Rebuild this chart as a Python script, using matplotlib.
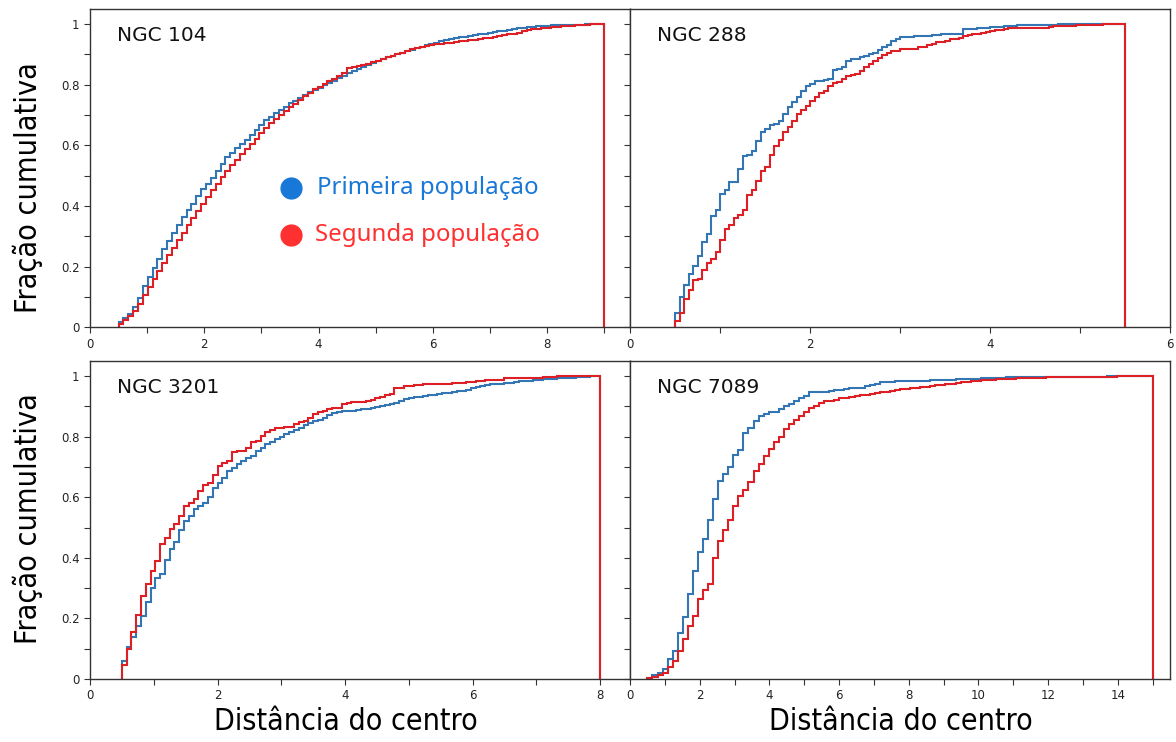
import numpy as np
import matplotlib
matplotlib.use("Agg")
import matplotlib.pyplot as plt
from matplotlib import font_manager
from matplotlib.ticker import MultipleLocator, FixedLocator, FixedFormatter

# aglomerados e limites das distancias (100 bins entre r_min e r_max)
clusters = ["NGC 104", "NGC 288", "NGC 3201", "NGC 7089"]
r_min = [0.5, 0.5, 0.5, 0.5]
r_max = [9.0, 5.5, 8.0, 15.0]
x_lim = [9.45, 6.0, 8.47, 15.5]
x_major = [2, 2, 2, 2]

# fracao cumulativa por bin - primeira populacao (1G) e segunda (2G)
ngc104_1g = [
    0.017, 0.030, 0.045, 0.065, 0.095, 0.135, 0.165, 0.195, 0.225, 0.258,
    0.285, 0.312, 0.338, 0.362, 0.385, 0.408, 0.432, 0.455, 0.472, 0.492,
    0.515, 0.538, 0.560, 0.576, 0.590, 0.603, 0.618, 0.634, 0.650, 0.667,
    0.684, 0.695, 0.706, 0.717, 0.728, 0.739, 0.748, 0.757, 0.766, 0.775,
    0.782, 0.790, 0.798, 0.806, 0.814, 0.822, 0.830, 0.838, 0.845, 0.852,
    0.859, 0.866, 0.873, 0.879, 0.885, 0.891, 0.896, 0.901, 0.906, 0.911,
    0.916, 0.921, 0.926, 0.930, 0.934, 0.939, 0.943, 0.947, 0.950, 0.954,
    0.957, 0.959, 0.962, 0.964, 0.966, 0.968, 0.970, 0.973, 0.976, 0.979,
    0.982, 0.984, 0.986, 0.988, 0.990, 0.991, 0.993, 0.994, 0.995, 0.996,
    0.996, 0.997, 0.997, 0.998, 0.998, 0.998, 0.999, 0.999, 0.999, 1.000,
]
ngc104_2g = [
    0.010, 0.022, 0.036, 0.052, 0.075, 0.105, 0.132, 0.160, 0.185, 0.212,
    0.238, 0.262, 0.288, 0.312, 0.336, 0.360, 0.384, 0.408, 0.430, 0.452,
    0.474, 0.494, 0.514, 0.534, 0.552, 0.570, 0.588, 0.605, 0.622, 0.640,
    0.657, 0.674, 0.688, 0.700, 0.712, 0.725, 0.738, 0.750, 0.762, 0.774,
    0.786, 0.794, 0.802, 0.812, 0.820, 0.830, 0.838, 0.855, 0.858, 0.862,
    0.866, 0.870, 0.875, 0.880, 0.886, 0.891, 0.896, 0.901, 0.906, 0.912,
    0.917, 0.922, 0.926, 0.929, 0.931, 0.933, 0.935, 0.937, 0.939, 0.941,
    0.943, 0.945, 0.947, 0.949, 0.951, 0.953, 0.955, 0.957, 0.960, 0.963,
    0.966, 0.969, 0.972, 0.976, 0.980, 0.983, 0.985, 0.987, 0.988, 0.990,
    0.992, 0.993, 0.994, 0.995, 0.996, 0.997, 0.998, 0.999, 0.999, 1.000,
]
ngc288_1g = [
    0.047, 0.100, 0.140, 0.177, 0.202, 0.235, 0.282, 0.309, 0.368, 0.387,
    0.440, 0.453, 0.478, 0.478, 0.522, 0.564, 0.569, 0.582, 0.615, 0.643,
    0.655, 0.668, 0.672, 0.682, 0.702, 0.726, 0.743, 0.759, 0.781, 0.796,
    0.801, 0.812, 0.814, 0.816, 0.818, 0.848, 0.853, 0.859, 0.878, 0.884,
    0.886, 0.892, 0.896, 0.900, 0.904, 0.915, 0.925, 0.932, 0.945, 0.952,
    0.956, 0.958, 0.958, 0.960, 0.960, 0.962, 0.962, 0.963, 0.965, 0.967,
    0.967, 0.967, 0.968, 0.968, 0.983, 0.983, 0.985, 0.986, 0.986, 0.988,
    0.990, 0.990, 0.992, 0.993, 0.993, 0.993, 0.998, 0.998, 0.998, 0.998,
    0.998, 0.998, 0.998, 0.998, 0.998, 1.000, 1.000, 1.000, 1.000, 1.000,
    1.000, 1.000, 1.000, 1.000, 1.000, 1.000, 1.000, 1.000, 1.000, 1.000,
]
ngc288_2g = [
    0.020, 0.047, 0.094, 0.121, 0.155, 0.160, 0.190, 0.213, 0.224, 0.249,
    0.287, 0.323, 0.337, 0.361, 0.370, 0.387, 0.436, 0.453, 0.481, 0.514,
    0.530, 0.569, 0.597, 0.619, 0.644, 0.660, 0.680, 0.702, 0.718, 0.731,
    0.746, 0.759, 0.774, 0.781, 0.796, 0.805, 0.810, 0.820, 0.828, 0.832,
    0.837, 0.845, 0.860, 0.867, 0.880, 0.888, 0.898, 0.905, 0.910, 0.912,
    0.918, 0.918, 0.918, 0.918, 0.926, 0.926, 0.930, 0.935, 0.940, 0.940,
    0.945, 0.950, 0.950, 0.955, 0.960, 0.963, 0.967, 0.967, 0.970, 0.973,
    0.976, 0.980, 0.982, 0.985, 0.987, 0.987, 0.987, 0.987, 0.987, 0.987,
    0.987, 0.987, 0.987, 0.990, 0.993, 0.995, 0.995, 0.995, 0.995, 0.997,
    0.997, 0.997, 0.998, 0.998, 0.998, 0.999, 1.000, 1.000, 1.000, 1.000,
]
ngc3201_1g = [
    0.058, 0.106, 0.139, 0.176, 0.207, 0.255, 0.301, 0.332, 0.345, 0.392,
    0.428, 0.452, 0.492, 0.522, 0.538, 0.560, 0.571, 0.582, 0.602, 0.632,
    0.646, 0.665, 0.687, 0.698, 0.709, 0.720, 0.728, 0.736, 0.753, 0.764,
    0.775, 0.783, 0.792, 0.800, 0.808, 0.816, 0.822, 0.830, 0.838, 0.845,
    0.852, 0.855, 0.863, 0.871, 0.877, 0.880, 0.883, 0.884, 0.886, 0.888,
    0.890, 0.892, 0.894, 0.898, 0.902, 0.905, 0.908, 0.912, 0.918, 0.925,
    0.928, 0.930, 0.932, 0.934, 0.936, 0.938, 0.941, 0.943, 0.945, 0.947,
    0.950, 0.952, 0.955, 0.959, 0.963, 0.968, 0.970, 0.972, 0.974, 0.975,
    0.976, 0.978, 0.980, 0.982, 0.984, 0.985, 0.987, 0.988, 0.989, 0.990,
    0.991, 0.992, 0.993, 0.994, 0.995, 0.996, 0.997, 0.998, 0.999, 1.000,
]
ngc3201_2g = [
    0.047, 0.099, 0.154, 0.211, 0.274, 0.312, 0.356, 0.389, 0.444, 0.466,
    0.494, 0.513, 0.538, 0.571, 0.582, 0.593, 0.621, 0.639, 0.648, 0.673,
    0.703, 0.712, 0.720, 0.748, 0.753, 0.753, 0.764, 0.783, 0.786, 0.803,
    0.816, 0.822, 0.828, 0.830, 0.833, 0.833, 0.841, 0.849, 0.852, 0.863,
    0.874, 0.880, 0.885, 0.891, 0.896, 0.896, 0.907, 0.912, 0.914, 0.914,
    0.915, 0.918, 0.922, 0.928, 0.932, 0.937, 0.940, 0.959, 0.962, 0.968,
    0.968, 0.970, 0.970, 0.972, 0.972, 0.972, 0.973, 0.974, 0.975, 0.976,
    0.976, 0.978, 0.980, 0.981, 0.983, 0.985, 0.987, 0.987, 0.987, 0.987,
    0.994, 0.994, 0.994, 0.994, 0.994, 0.994, 0.994, 0.995, 0.996, 0.997,
    0.998, 0.999, 1.000, 1.000, 1.000, 1.000, 1.000, 1.000, 1.000, 1.000,
]
ngc7089_1g = [
    0.003, 0.014, 0.020, 0.033, 0.066, 0.092, 0.152, 0.205, 0.279, 0.356,
    0.420, 0.461, 0.525, 0.595, 0.652, 0.676, 0.701, 0.740, 0.755, 0.811,
    0.827, 0.850, 0.867, 0.874, 0.882, 0.882, 0.891, 0.900, 0.907, 0.916,
    0.926, 0.933, 0.946, 0.948, 0.948, 0.948, 0.950, 0.954, 0.954, 0.957,
    0.959, 0.959, 0.962, 0.968, 0.970, 0.975, 0.980, 0.981, 0.981, 0.982,
    0.982, 0.983, 0.984, 0.985, 0.985, 0.985, 0.986, 0.986, 0.986, 0.987,
    0.988, 0.989, 0.990, 0.990, 0.991, 0.991, 0.992, 0.993, 0.993, 0.994,
    0.995, 0.996, 0.996, 0.997, 0.997, 0.997, 0.997, 0.997, 0.998, 0.998,
    0.998, 0.998, 0.998, 0.998, 0.998, 0.998, 0.998, 0.998, 0.998, 0.998,
    0.998, 0.999, 0.999, 0.999, 0.999, 1.000, 1.000, 1.000, 1.000, 1.000,
]
ngc7089_2g = [
    0.003, 0.006, 0.012, 0.020, 0.039, 0.058, 0.092, 0.132, 0.174, 0.209,
    0.265, 0.295, 0.315, 0.398, 0.455, 0.491, 0.524, 0.571, 0.604, 0.624,
    0.650, 0.687, 0.709, 0.736, 0.759, 0.783, 0.799, 0.825, 0.841, 0.854,
    0.869, 0.880, 0.893, 0.902, 0.911, 0.918, 0.918, 0.922, 0.926, 0.929,
    0.931, 0.933, 0.936, 0.938, 0.940, 0.944, 0.946, 0.948, 0.951, 0.954,
    0.956, 0.958, 0.960, 0.962, 0.964, 0.965, 0.967, 0.969, 0.970, 0.972,
    0.975, 0.977, 0.979, 0.981, 0.983, 0.984, 0.986, 0.987, 0.988, 0.989,
    0.990, 0.990, 0.991, 0.992, 0.992, 0.993, 0.994, 0.994, 0.995, 0.996,
    0.996, 0.997, 0.997, 0.997, 0.997, 0.997, 0.997, 0.997, 0.997, 0.997,
    0.997, 0.997, 0.997, 0.999, 1.000, 1.000, 1.000, 1.000, 1.000, 1.000,
]

first_gen = [ngc104_1g, ngc288_1g, ngc3201_1g, ngc7089_1g]
second_gen = [ngc104_2g, ngc288_2g, ngc3201_2g, ngc7089_2g]

y_ticks = [0, 0.2, 0.4, 0.6, 0.8, 1.0]
y_labels = ["0", "0.2", "0.4", "0.6", "0.8", "1"]

c_1g = "#3476b4"
c_2g = "#dd1f26"
c_leg_1g = "#1878d8"
c_leg_2g = "#ff3030"


def condensed_font():
    # procura uma fonte estreita instalada para os rotulos dos eixos
    for f in font_manager.fontManager.ttflist:
        if ("Condensed" in f.name or "Narrow" in f.name
                or f.stretch in ("condensed", "semi-condensed")) \
                and f.weight in (400, "normal", "regular") \
                and f.style == "normal":
            return font_manager.FontProperties(fname=f.fname)
    return font_manager.FontProperties(family="Roboto")


fig, axes = plt.subplots(2, 2, figsize=(11.76, 7.42), dpi=100, sharey=True)
fig.subplots_adjust(left=90 / 1176, right=1170 / 1176, top=1 - 9 / 742,
                    bottom=1 - 679 / 742, wspace=0, hspace=0.106)

for k, ax in enumerate(axes.flat):
    edges = np.linspace(r_min[k], r_max[k], len(first_gen[k]) + 1)
    ax.stairs(first_gen[k], edges, baseline=0, fill=False, color=c_1g, lw=1.5)
    ax.stairs(second_gen[k], edges, baseline=0, fill=False, color=c_2g, lw=1.5)

    ax.set_xlim(0, x_lim[k])
    ax.set_ylim(0, 1.05)
    ax.xaxis.set_major_locator(MultipleLocator(x_major[k]))
    ax.xaxis.set_minor_locator(MultipleLocator(1))
    ax.yaxis.set_major_locator(FixedLocator(y_ticks))
    ax.yaxis.set_major_formatter(FixedFormatter(y_labels))
    ax.yaxis.set_minor_locator(MultipleLocator(0.1))
    ax.tick_params(which="both", direction="out", length=4, width=0.8,
                   colors="#333333", labelsize=8.5, labelcolor="#222222")
    for sp in ax.spines.values():
        sp.set_color("#333333")
        sp.set_linewidth(1.0)
    if k % 2 == 1:
        ax.tick_params(axis="y", labelleft=False)

    ax.text(0.05, 0.945, clusters[k], transform=ax.transAxes, ha="left",
            va="top", fontsize=14.5, color="#111111")

# legenda das populacoes
ax0 = axes[0, 0]
ax0.plot([0.372], [0.438], "o", ms=15, color=c_leg_1g, transform=ax0.transAxes,
         clip_on=False)
ax0.plot([0.372], [0.290], "o", ms=15, color=c_leg_2g, transform=ax0.transAxes,
         clip_on=False)
ax0.text(0.42, 0.438, "Primeira população", transform=ax0.transAxes,
         ha="left", va="center", fontsize=17.3, color=c_leg_1g,
         family=["Noto Sans", "DejaVu Sans"])
ax0.text(0.417, 0.290, "Segunda população", transform=ax0.transAxes,
         ha="left", va="center", fontsize=17.3, color=c_leg_2g,
         family=["Noto Sans", "DejaVu Sans"])

# rotulos dos eixos, ajustados para a largura desejada (em pixels)
fp = condensed_font()
labels = []
for y in (1 - 188 / 742, 1 - 519 / 742):
    t = fig.text(0.0238, y, "Fração cumulativa", rotation=90, ha="center",
                 va="center", fontproperties=fp, fontsize=26.5)
    labels.append((t, 250))
for x in (346 / 1176, 901 / 1176):
    t = fig.text(x, 0.027, "Distância do centro", ha="center", va="center",
                 fontproperties=fp, fontsize=26.5)
    labels.append((t, 263))

fig.canvas.draw()
renderer = fig.canvas.get_renderer()
for t, target in labels:
    bb = t.get_window_extent(renderer)
    size = max(bb.width, bb.height)
    t.set_fontsize(min(26.5 * target / size, 30))

fig.savefig("out.png", dpi=100)
